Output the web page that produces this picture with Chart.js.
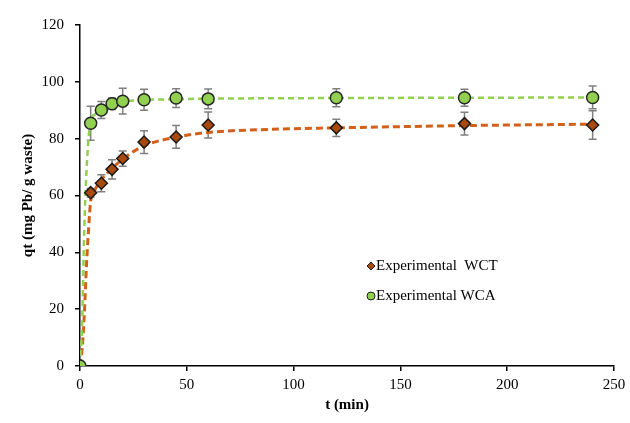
<!DOCTYPE html>
<html>
<head>
<meta charset="utf-8">
<script src="https://cdn.jsdelivr.net/npm/chart.js@4/dist/chart.umd.min.js"></script>
<style>
  html, body { margin: 0; padding: 0; background: #fff; }
  #wrap { position: relative; width: 630px; height: 423px; }
</style>
</head>
<body>
<div id="wrap"><canvas id="myChart" width="630" height="423"></canvas></div>
<script>
// measured points (t in min, qt in mg Pb / g waste)
const timeMin = [0, 5, 10, 15, 20, 30, 45, 60, 120, 180, 240];
const wctQt = [0, 61, 64.3, 69.2, 73, 78.8, 80.6, 84.8, 83.8, 85.3, 84.8];
const wctErr = [0, 1.5, 3, 3.4, 2.7, 4, 4, 4.6, 3, 4, 5];
const wcaQt = [0, 85.4, 90.1, 92.3, 93.2, 93.7, 94.3, 94, 94.4, 94.4, 94.5];
const wcaErr = [0, 6, 3, 2, 4.5, 3.7, 3.3, 3.5, 3.2, 3, 4];

// dashed fit curves
const fitTime = [0, 1, 2, 3, 4, 5, 7, 10, 15, 20, 30, 45, 60, 90, 120, 180, 240];
const wctFit = [0, 6, 18, 35, 48, 58, 62, 65.5, 69.5, 72.8, 77.5, 80.5, 82.2, 83.3, 83.8, 84.6, 85.1];
const wcaFit = [0, 15, 48, 68, 80, 86.5, 88.5, 90.3, 92, 93, 93.6, 93.9, 94.1, 94.2, 94.3, 94.4, 94.5];

const xTicks = [0, 50, 100, 150, 200, 250];
const yTicks = [0, 20, 40, 60, 80, 100, 120];

const legendNames = ['Experimental  WCT', 'Experimental WCA'];

const serif = "'Liberation Serif', 'DejaVu Serif', serif";

function toPoints(xs, ys) {
    return xs.map((x, i) => ({ x: x, y: ys[i] }));
}

const errorBars = {
    id: 'errorBars',
    beforeDatasetsDraw(chart) {
        const ctx = chart.ctx;
        const xs = chart.scales.x;
        const ys = chart.scales.y;
        ctx.save();
        ctx.strokeStyle = '#7f7f7f';
        ctx.lineWidth = 1.5;
        chart.data.datasets.forEach(ds => {
            if (!ds.errors) return;
            ds.data.forEach((p, i) => {
                const e = ds.errors[i];
                if (!e) return;
                const px = xs.getPixelForValue(p.x);
                const top = ys.getPixelForValue(p.y + e);
                const bot = ys.getPixelForValue(p.y - e);
                ctx.beginPath();
                ctx.moveTo(px, top);
                ctx.lineTo(px, bot);
                ctx.moveTo(px - 4, top);
                ctx.lineTo(px + 4, top);
                ctx.moveTo(px - 4, bot);
                ctx.lineTo(px + 4, bot);
                ctx.stroke();
            });
        });
        ctx.restore();
    }
};

const innerLegend = {
    id: 'innerLegend',
    afterDraw(chart) {
        const ctx = chart.ctx;
        ctx.save();
        ctx.font = "15px " + serif;
        ctx.textBaseline = 'middle';
        const rows = [
            { y: 266, fill: '#a8490e', style: 'rectRot' },
            { y: 296, fill: '#92d050', style: 'circle' }
        ];
        rows.forEach((r, i) => {
            ctx.fillStyle = r.fill;
            ctx.strokeStyle = '#222';
            ctx.lineWidth = 1;
            Chart.helpers.drawPoint(ctx, { pointStyle: r.style, radius: 4, borderWidth: 1 }, 371, r.y);
            ctx.fillStyle = '#000';
            ctx.fillText(legendNames[i], 376, r.y);
        });
        ctx.restore();
    }
};

const ctx = document.getElementById('myChart');

new Chart(ctx, {
    type: 'scatter',
    data: {
        datasets: [
            {
                label: 'WCA points',
                data: toPoints(timeMin, wcaQt),
                errors: wcaErr,
                pointStyle: 'circle',
                pointRadius: 6,
                pointBackgroundColor: '#92d050',
                pointBorderColor: '#262626',
                pointBorderWidth: 1.5,
                order: 1
            },
            {
                label: 'WCT points',
                data: toPoints(timeMin, wctQt),
                errors: wctErr,
                pointStyle: 'rectRot',
                pointRadius: 6,
                pointBackgroundColor: '#a8490e',
                pointBorderColor: '#1a1a1a',
                pointBorderWidth: 1.5,
                order: 2
            },
            {
                label: 'WCA fit',
                data: toPoints(fitTime, wcaFit),
                showLine: true,
                pointRadius: 0,
                borderColor: '#92d050',
                borderWidth: 2.5,
                borderDash: [6, 4],
                cubicInterpolationMode: 'monotone',
                order: 3
            },
            {
                label: 'WCT fit',
                data: toPoints(fitTime, wctFit),
                showLine: true,
                pointRadius: 0,
                borderColor: '#d2601a',
                borderWidth: 3,
                borderDash: [7, 4],
                cubicInterpolationMode: 'monotone',
                order: 4
            }
        ]
    },
    options: {
        responsive: false,
        animation: false,
        layout: { padding: { top: 25, right: 16, bottom: 9, left: 19 } },
        plugins: {
            legend: { display: false },
            tooltip: { enabled: false }
        },
        scales: {
            x: {
                type: 'linear',
                min: 0,
                max: 250,
                afterBuildTicks: s => { s.ticks = xTicks.map(v => ({ value: v })); },
                afterFit: s => { s.paddingRight = 0; s.paddingLeft = 0; },
                grid: { drawOnChartArea: false, tickLength: 5, color: '#000', lineWidth: 1.5 },
                border: { color: '#000', width: 1.5 },
                ticks: { color: '#000', font: { family: serif, size: 15 }, padding: 5 },
                title: {
                    display: true,
                    text: 't (min)',
                    color: '#000',
                    font: { family: serif, size: 15, weight: 'bold' },
                    padding: { top: -3, bottom: 0 }
                }
            },
            y: {
                min: 0,
                max: 120,
                afterBuildTicks: s => { s.ticks = yTicks.map(v => ({ value: v })); },
                afterFit: s => { s.width = 61; s.paddingTop = 0; s.paddingBottom = 0; },
                grid: { drawOnChartArea: false, tickLength: 5, color: '#000', lineWidth: 1.5 },
                border: { color: '#000', width: 1.5 },
                ticks: { color: '#000', font: { family: serif, size: 15 }, padding: 11 },
                title: {
                    display: true,
                    text: 'qt (mg Pb/ g waste)',
                    color: '#000',
                    font: { family: serif, size: 15, weight: 'bold' },
                    padding: { top: 0, bottom: 0 }
                }
            }
        }
    },
    plugins: [errorBars, innerLegend]
});
</script>
</body>
</html>
